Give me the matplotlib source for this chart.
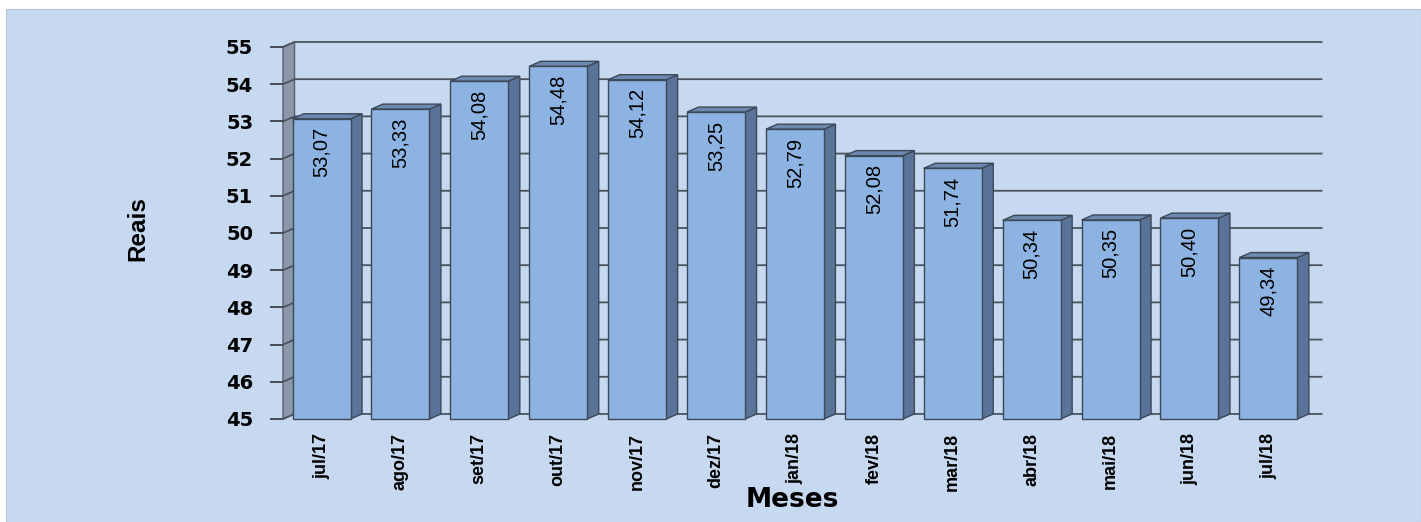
import numpy as np
import matplotlib.pyplot as plt
from matplotlib.patches import Polygon, Rectangle

meses = ['jul/17', 'ago/17', 'set/17', 'out/17', 'nov/17', 'dez/17', 'jan/18',
         'fev/18', 'mar/18', 'abr/18', 'mai/18', 'jun/18', 'jul/18']
valores = [53.07, 53.33, 54.08, 54.48, 54.12, 53.25, 52.79,
           52.08, 51.74, 50.34, 50.35, 50.40, 49.34]
rotulos = ['53,07', '53,33', '54,08', '54,48', '54,12', '53,25', '52,79',
           '52,08', '51,74', '50,34', '50,35', '50,40', '49,34']
yticks = list(range(45, 56))

arial = ['Liberation Sans', 'DejaVu Sans']

W, H = 1421, 522
fig = plt.figure(figsize=(W / 100, H / 100), dpi=100, facecolor='white')

# fundo azul do painel
fig.patches.append(Rectangle((6 / W, 0), 1 - 6 / W, (H - 9) / H, transform=fig.transFigure,
                             facecolor='#c6d9f0', edgecolor='#b8c4d2', lw=0.8, zorder=-5))

ax = fig.add_axes([283 / W, (H - 419) / H, (1310 - 283) / W, (419 - 47) / H])
ax.set_zorder(2)
ax.set_facecolor('none')
for s in ax.spines.values():
    s.set_visible(False)

x0, x1 = -0.488, 12.528
y0, y1 = 45, 55
ax.set_xlim(x0, x1)
ax.set_ylim(y0, y1)

dx = 0.146   # profundidade 3D em x
dy = 0.135   # profundidade 3D em y
larg = 0.735

# parede lateral esquerda
ax.add_patch(Polygon([(x0, y0), (x0 + dx, y0 + dy), (x0 + dx, y1 + dy), (x0, y1)],
                     closed=True, facecolor='#8a98aa', edgecolor='#56606c', lw=1,
                     clip_on=False, zorder=1))

# linhas de grade na parede
for v in yticks:
    ax.plot([x0, x0 + dx, x1 + dx], [v, v + dy, v + dy], color='#4a5360', lw=1.3,
            clip_on=False, zorder=2)

# barras 3D
for i, v in enumerate(valores):
    l, r = i - larg / 2, i + larg / 2
    lado = Polygon([(r, y0), (r + dx, y0 + dy), (r + dx, v + dy), (r, v)], closed=True,
                   facecolor='#5a7399', edgecolor='#3d4857', lw=1, clip_on=False, zorder=3)
    topo = Polygon([(l, v), (l + dx, v + dy), (r + dx, v + dy), (r, v)], closed=True,
                   facecolor='#6c89b0', edgecolor='#3d4857', lw=1, clip_on=False, zorder=3)
    frente = Rectangle((l, y0), larg, v - y0, facecolor='#8db3e2', edgecolor='#3d4857',
                       lw=1, clip_on=False, zorder=4)
    ax.add_patch(lado)
    ax.add_patch(topo)
    ax.add_patch(frente)
    ax.annotate(rotulos[i], (i, v), xytext=(0, -6), textcoords='offset points',
                rotation=90, ha='center', va='top', fontsize=14.5, family=arial,
                color='black', zorder=5)

ax.set_yticks(yticks)
ax.set_yticklabels([str(t) for t in yticks], fontsize=14, fontweight='bold', family='DejaVu Sans')
ax.tick_params(axis='y', length=9.5, width=1.2, color='#333333', pad=12, direction='out')

ax.set_xticks(range(len(meses)))
ax.set_xticklabels(meses, rotation=90, fontsize=13, fontweight='bold', family=arial)
ax.tick_params(axis='x', length=0, pad=10)
for t in ax.get_xticklabels():
    t.set_va('top')

fig.text(138 / W, 1 - 229 / H, 'Reais', rotation=90, ha='center', va='center',
         fontsize=17.5, fontweight='bold', family=arial)
fig.text(792 / W, 1 - 500 / H, 'Meses', ha='center', va='center',
         fontsize=19, fontweight='bold', family='DejaVu Sans')

fig.savefig('out.png', dpi=100, facecolor='white')
